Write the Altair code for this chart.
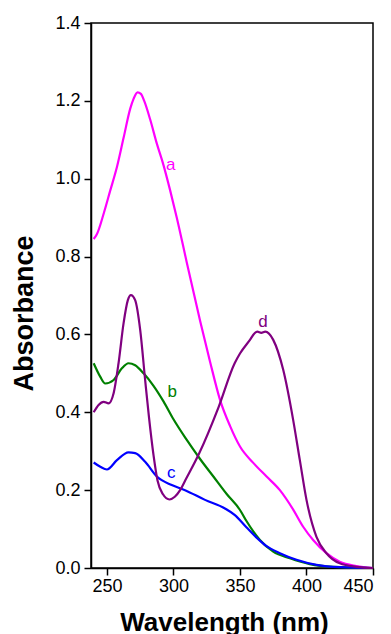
import altair as alt
import pandas as pd

# ---- data ----
a_nm = [240, 242.5, 247.5, 252.5, 257.5, 262.5, 267.5, 270, 273, 275.5, 278, 282.5, 287.5, 292.5,
        297.5, 302.5, 310, 320, 327.5, 335, 342.5, 350, 360, 370, 380, 390, 397.5, 405, 415, 425, 437.5, 450]
a_A = [0.845, 0.858, 0.91, 0.97, 1.03, 1.105, 1.18, 1.205, 1.222, 1.218, 1.2, 1.152, 1.09, 1.035,
       0.97, 0.9, 0.785, 0.635, 0.53, 0.432, 0.365, 0.312, 0.27, 0.235, 0.2, 0.15, 0.106, 0.072, 0.038, 0.016, 0.005, 0.0]

b_nm = [240, 245, 248.7, 255, 261.2, 266.2, 271.2, 277.5, 285, 292.5, 300, 310, 320, 330, 340, 350,
        355, 360, 365, 375, 387.5, 402.5, 420, 450]
b_A = [0.526, 0.491, 0.474, 0.483, 0.513, 0.526, 0.521, 0.5, 0.468, 0.428, 0.382, 0.329, 0.28, 0.235, 0.19, 0.149,
       0.12, 0.094, 0.072, 0.042, 0.025, 0.01, 0.003, 0.0]

c_nm = [240, 245, 250, 257.5, 266.2, 271.2, 278.7, 287.5, 298.7, 308.7, 323.7, 338.7, 346.2, 355, 362.5,
        370, 380, 392.5, 407.5, 425, 450]
c_A = [0.271, 0.26, 0.253, 0.277, 0.297, 0.295, 0.273, 0.235, 0.213, 0.2, 0.175, 0.153, 0.136, 0.104, 0.078,
       0.056, 0.038, 0.021, 0.008, 0.002, 0.0]

d_nm = [240, 243.7, 247.5, 251.2, 255, 258.7, 262.5, 265.7, 268, 271.2, 275, 278.7, 281.5, 285, 288, 292,
        297, 301, 305, 309, 319, 334, 346, 350, 357.5, 361, 363, 366, 369, 375, 382.5, 390, 395, 400,
        407.5, 415, 425, 437.5, 450]
d_A = [0.40, 0.419, 0.427, 0.423, 0.449, 0.526, 0.629, 0.688, 0.701, 0.688, 0.611, 0.483, 0.39, 0.29, 0.225, 0.19,
       0.176, 0.183, 0.2, 0.226, 0.292, 0.414, 0.526, 0.551, 0.586, 0.603, 0.607, 0.604, 0.607, 0.586, 0.509,
       0.38, 0.277, 0.175, 0.08, 0.038, 0.012, 0.003, 0.0]

series_names = ["a", "b", "c", "d"]
series_colors = ["#FF00FF", "#008000", "#0000FF", "#800080"]

label_nm = [298, 299, 298.3, 367.3]
label_A = [1.035, 0.452, 0.244, 0.632]

x_ticks = [250, 275, 300, 325, 350, 375, 400, 425, 450]
y_ticks = [0.0, 0.1, 0.2, 0.3, 0.4, 0.5, 0.6, 0.7, 0.8, 0.9, 1.0, 1.1, 1.2, 1.3, 1.4]

# ---- build tables ----
rows = []
for name, xs, ys in zip(series_names, [a_nm, b_nm, c_nm, d_nm], [a_A, b_A, c_A, d_A]):
    for x, y in zip(xs, ys):
        rows.append({"series": name, "nm": x, "A": y})
df = pd.DataFrame(rows)
labels = pd.DataFrame({"series": series_names, "nm": label_nm, "A": label_A})

FONT = "Liberation Sans"

x_scale = alt.Scale(domain=[238, 450], nice=False, zero=False)
y_scale = alt.Scale(domain=[0, 1.4], nice=False)
color_scale = alt.Scale(domain=series_names, range=series_colors)

x_axis = alt.Axis(
    values=x_ticks,
    labelExpr="datum.value % 50 === 0 ? datum.label : ''",
    tickSize={"condition": {"test": "datum.value % 50 === 0", "value": 7}, "value": 4},
    grid=False, domainColor="black", domainWidth=1.5, tickColor="black", tickWidth=1.5,
    labelFont=FONT, labelFontSize=18, labelColor="black", labelPadding=2,
    title="Wavelength (nm)", titleFont=FONT, titleFontSize=26, titleFontWeight="bold",
    titleColor="black", titleX=133, titleY=62, titleAlign="center", titleBaseline="alphabetic",
)
y_axis = alt.Axis(
    values=y_ticks, format=".1f",
    labelExpr="round(datum.value * 10) % 2 === 0 ? datum.label : ''",
    tickSize={"condition": {"test": "round(datum.value * 10) % 2 === 0", "value": 7}, "value": 4},
    grid=False, domainColor="black", domainWidth=1.5, tickColor="black", tickWidth=1.5,
    labelFont=FONT, labelFontSize=18, labelColor="black", labelPadding=4,
    title="Absorbance", titleFont=FONT, titleFontSize=27, titleFontWeight="bold",
    titleColor="black", titleAngle=270, titleX=-67, titleY=290, titleAlign="center",
    titleBaseline="middle",
)

lines = alt.Chart(df).mark_line(strokeWidth=2.2, interpolate="monotone").encode(
    x=alt.X("nm:Q", scale=x_scale, axis=x_axis),
    y=alt.Y("A:Q", scale=y_scale, axis=y_axis),
    color=alt.Color("series:N", scale=color_scale, legend=None),
    detail="series:N",
)

texts = alt.Chart(labels).mark_text(font=FONT, fontSize=17, align="center", baseline="middle").encode(
    x=alt.X("nm:Q", scale=x_scale),
    y=alt.Y("A:Q", scale=y_scale),
    text="series:N",
    color=alt.Color("series:N", scale=color_scale, legend=None),
)

chart = (lines + texts).properties(
    width=282, height=545,
    autosize=alt.AutoSizeParams(type="none"),
    padding={"left": 91, "top": 23, "right": 18, "bottom": 66},
    background="white",
).configure_view(stroke="black", strokeWidth=1.5)

chart.save("out.html", embed_options={"renderer": "svg", "actions": False})
